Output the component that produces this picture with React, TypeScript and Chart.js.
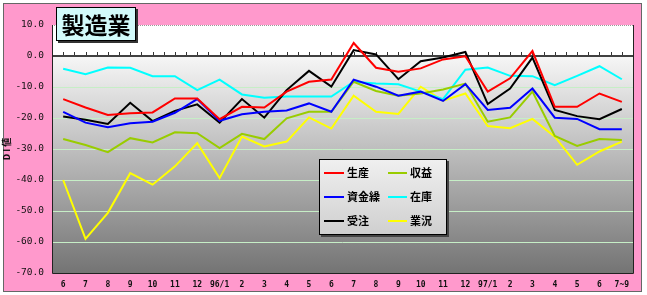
import React, { useEffect, useRef } from "react";
import { Chart, registerables } from "chart.js";

Chart.register(...registerables);

const categories = [
  "6", "7", "8", "9", "10", "11", "12", "96/1", "2", "3", "4", "5", "6",
  "7", "8", "9", "10", "11", "12", "97/1", "2", "3", "4", "5", "6", "7~9",
];

const seisan = [-13.9, -16.6, -19.0, -18.5, -18.2, -13.7, -13.7, -20.4, -16.4, -16.6, -11.5, -8.3, -7.6,
  4.2, -3.8, -5.1, -4.0, -1.1, -0.1, -11.5, -7.2, 1.6, -16.4, -16.4, -12.1, -14.8];
const shikinguri = [-18.0, -21.5, -23.0, -21.7, -21.2, -18.3, -13.9, -20.9, -18.8, -18.0, -17.6, -15.3, -18.0,
  -7.6, -9.9, -12.8, -11.5, -14.5, -9.1, -17.4, -16.7, -10.5, -19.9, -20.3, -23.6, -23.6];
const juchu = [-19.5, -20.6, -21.9, -15.1, -21.0, -17.7, -15.6, -21.5, -13.9, -19.9, -11.0, -4.8, -9.9,
  1.9, 0.5, -7.5, -1.7, -0.5, 1.3, -15.5, -10.5, -0.5, -17.4, -19.4, -20.4, -17.1];
const shueki = [-26.8, -28.7, -31.0, -26.5, -27.9, -24.6, -24.9, -29.7, -25.1, -26.8, -20.1, -18.0, -18.0,
  -8.3, -11.3, -12.8, -12.1, -10.8, -8.9, -21.2, -19.8, -11.5, -25.8, -29.0, -26.8, -27.1];
const zaiko = [-4.1, -5.9, -3.7, -3.8, -6.5, -6.5, -11.0, -7.6, -12.4, -13.5, -13.1, -13.1, -13.1,
  -8.3, -8.9, -9.1, -11.5, -13.9, -4.4, -3.7, -6.4, -6.5, -9.4, -6.4, -3.3, -7.5];
const gyokyo = [-40.0, -59.0, -50.6, -37.8, -41.5, -35.6, -28.1, -39.4, -26.0, -29.2, -27.6, -19.8, -23.4,
  -12.8, -18.0, -18.7, -9.9, -14.4, -12.1, -22.6, -23.3, -20.3, -26.0, -35.1, -30.8, -27.6];

const yMin = -70;
const yMax = 10;
const yStep = 10;

const titleText = "製造業";
const yTitle = "D I 値";

const JP = '"Noto Sans CJK JP", "DejaVu Sans", sans-serif';

const chromePlugin = {
  id: "chrome",
  beforeDraw(chart: any) {
    const { ctx, chartArea: a } = chart;
    const y0 = chart.scales.y.getPixelForValue(0);
    ctx.save();
    ctx.fillStyle = "#ffffff";
    ctx.fillRect(0, 0, chart.width, chart.height);
    ctx.fillStyle = "#ff99cc";
    ctx.fillRect(3, 3, 639, 289);
    ctx.strokeStyle = "#666666";
    ctx.lineWidth = 1;
    ctx.strokeRect(3.5, 3.5, 638, 288);
    // plot background
    ctx.fillStyle = "#ffffff";
    ctx.fillRect(a.left, a.top, a.right - a.left, y0 - a.top);
    const g = ctx.createLinearGradient(0, y0, 0, a.bottom);
    g.addColorStop(0, "#f6f6f6");
    g.addColorStop(1, "#747474");
    ctx.fillStyle = g;
    ctx.fillRect(a.left, y0, a.right - a.left, a.bottom - y0);
    ctx.restore();
  },
  beforeDatasetsDraw(chart: any) {
    const { ctx, chartArea: a } = chart;
    const y0 = chart.scales.y.getPixelForValue(0);
    const n = categories.length * 2;
    const w = (a.right - a.left) / n;
    ctx.save();
    ctx.strokeStyle = "#333333";
    ctx.lineWidth = 1;
    ctx.beginPath();
    for (let k = 1; k < n; k++) {
      const x = Math.round(a.left + k * w) + 0.5;
      ctx.moveTo(x, y0 - 1);
      ctx.lineTo(x, y0 - 4);
    }
    ctx.stroke();
    // border
    ctx.strokeStyle = "#999999";
    ctx.setLineDash([1, 1]);
    ctx.beginPath();
    ctx.moveTo(a.left, a.top + 0.5);
    ctx.lineTo(a.right, a.top + 0.5);
    ctx.stroke();
    ctx.setLineDash([]);
    ctx.strokeStyle = "#222222";
    ctx.beginPath();
    ctx.moveTo(a.left + 0.5, a.top);
    ctx.lineTo(a.left + 0.5, a.bottom + 0.5);
    ctx.lineTo(a.right + 0.5, a.bottom + 0.5);
    ctx.lineTo(a.right + 0.5, a.top);
    ctx.stroke();
    ctx.restore();
  },
  afterDraw(chart: any) {
    const { ctx } = chart;
    ctx.save();
    // title box
    const bx = 56, by = 7, bw = 80, bh = 34;
    ctx.fillStyle = "#333333";
    ctx.fillRect(bx + 2, by + 2, bw, bh);
    ctx.fillStyle = "#d2fafa";
    ctx.fillRect(bx, by, bw, bh);
    ctx.strokeStyle = "#000000";
    ctx.lineWidth = 1;
    ctx.strokeRect(bx + 0.5, by + 0.5, bw - 1, bh - 1);
    ctx.fillStyle = "#000000";
    ctx.font = `bold 23px ${JP}`;
    ctx.textAlign = "center";
    ctx.textBaseline = "middle";
    ctx.fillText(titleText, bx + bw / 2, by + bh / 2 + 1);

    // legend
    const lx = 319, ly = 159, lw = 128, lh = 76;
    ctx.fillStyle = "#444444";
    ctx.fillRect(lx + 2, ly + 2, lw, lh);
    const lg = ctx.createLinearGradient(0, ly, 0, ly + lh);
    lg.addColorStop(0, "#f0f0f0");
    lg.addColorStop(1, "#cfcfcf");
    ctx.fillStyle = lg;
    ctx.fillRect(lx, ly, lw, lh);
    ctx.strokeStyle = "#000000";
    ctx.strokeRect(lx + 0.5, ly + 0.5, lw - 1, lh - 1);
    const order = [0, 3, 1, 4, 2, 5];
    const rows = [173, 197, 221];
    const cols = [
      { x1: 324, x2: 344, tx: 347 },
      { x1: 388, x2: 407, tx: 410 },
    ];
    ctx.textAlign = "left";
    ctx.textBaseline = "middle";
    ctx.font = `bold 11px ${JP}`;
    order.forEach((di, i) => {
      const ds = chart.data.datasets[di];
      const r = rows[Math.floor(i / 2)];
      const c = cols[i % 2];
      ctx.strokeStyle = ds.borderColor;
      ctx.lineWidth = 2;
      ctx.beginPath();
      ctx.moveTo(c.x1, r);
      ctx.lineTo(c.x2, r);
      ctx.stroke();
      ctx.fillStyle = "#000000";
      ctx.fillText(ds.label, c.tx, r);
    });
    ctx.restore();
  },
};

export default function App() {
  const ref = useRef<HTMLCanvasElement>(null);
  useEffect(() => {
    document.body.style.margin = "0";
    const mk = (label: string, data: number[], color: string) => ({
      label,
      data,
      borderColor: color,
      backgroundColor: color,
      borderWidth: 2,
      pointRadius: 0,
      tension: 0,
      fill: false,
    });
    const chart = new Chart(ref.current!, {
      type: "line",
      data: {
        labels: categories,
        datasets: [
          mk("生産", seisan, "#ff0000"),
          mk("資金繰", shikinguri, "#0000ff"),
          mk("受注", juchu, "#000000"),
          mk("収益", shueki, "#99cc00"),
          mk("在庫", zaiko, "#00ffff"),
          mk("業況", gyokyo, "#ffff00"),
        ],
      },
      options: {
        responsive: false,
        animation: false,
        devicePixelRatio: 1,
        layout: { padding: { left: 0, right: 14, top: 25, bottom: 0 } },
        plugins: { legend: { display: false }, tooltip: { enabled: false }, title: { display: false } },
        scales: {
          x: {
            offset: true,
            grid: { display: false, drawTicks: false },
            border: { display: false },
            ticks: {
              autoSkip: false,
              maxRotation: 0,
              padding: 7,
              color: "#111111",
              font: { family: '"DejaVu Sans Mono", monospace', size: 8, weight: "bold" },
            },
            afterFit: (s: any) => { s.height = 22; },
          },
          y: {
            min: yMin,
            max: yMax,
            ticks: {
              stepSize: yStep,
              padding: 8,
              color: "#111111",
              font: { family: '"DejaVu Sans Mono", monospace', size: 9.5 },
              callback: (v: any) => Number(v).toFixed(1),
            },
            grid: {
              drawTicks: false,
              color: (c: any) => {
                const v = c.tick?.value;
                if (v === 0) return "#404040";
                if (v < 0 && v > yMin) return "#c6eec6";
                return "rgba(0,0,0,0)";
              },
              lineWidth: (c: any) => (c.tick?.value === 0 ? 2 : 1),
            },
            border: { display: false },
            title: {
              display: true,
              text: yTitle,
              color: "#111111",
              padding: { top: 1, bottom: 0 },
              font: { family: JP, size: 9, weight: "bold" },
            },
            afterFit: (s: any) => { s.width = 52; },
          },
        },
      },
      plugins: [chromePlugin],
    });
    return () => chart.destroy();
  }, []);
  return (
    <div style={{ width: 647, height: 295 }}>
      <canvas ref={ref} width={647} height={295} style={{ display: "block" }} />
    </div>
  );
}
